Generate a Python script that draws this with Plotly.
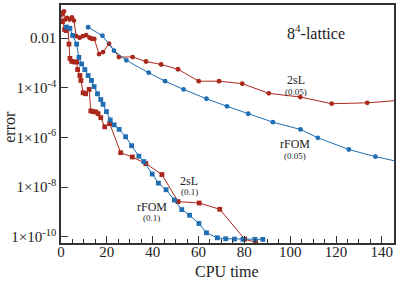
import plotly.graph_objects as go

# 2sL (0.05)
red05_x = [0.43, 1.30, 1.87, 2.73, 3.77, 4.77, 5.64, 6.64, 8.11, 9.54, 10.98, 12.45, 13.45, 14.53,
           16.62, 18.35, 20.95, 25.29, 31.24, 37.09, 43.69, 51.06, 60.09, 68.98, 79.09, 90.67,
           104.43, 118.13, 133.62, 149.2]
red05_y = [0.104, 0.120, 0.056, 0.0655, 0.056, 0.069, 0.051, 0.012, 0.0104, 0.012, 0.0132, 0.0104,
           0.00946, 0.0093, 0.00229, 0.00275, 0.00597, 0.00174, 0.00174, 0.00115, 8.7e-4, 5.6e-4,
           1.85e-4, 1.85e-4, 1.47e-4, 6.0e-5, 4.25e-5, 2.29e-5, 2.49e-5, 3.22e-5]

# rFOM (0.05)
blue05_x = [11.84, 18.09, 23.12, 28.50, 38.26, 45.42, 53.49, 63.47, 72.45, 81.69, 92.45, 104.47,
            112.06, 125.60, 137.18, 147.07]
blue05_y = [0.0275, 0.0125, 0.00313, 0.00128, 4.06e-4, 1.85e-4, 8.63e-5, 3.63e-5, 1.80e-5, 9.03e-6,
            4.13e-6, 2.11e-6, 9.73e-7, 3.28e-7, 1.69e-7, 1.07e-7]

# 2sL (0.1)
red01_x = [0.22, 0.65, 1.61, 2.30, 3.04, 3.47, 3.90, 4.64, 5.64, 6.81, 7.25, 8.24, 8.68, 9.67, 10.72,
           12.28, 13.02, 14.01, 15.18, 16.18, 17.35, 19.09, 21.26, 26.03, 31.11, 37.01, 44.03, 51.06,
           60.30, 69.28, 80.13, 84.90]
red01_y = [0.093, 0.0466, 0.0223, 0.0203, 0.0244, 0.00575, 0.00154, 0.00117, 0.0011, 0.0011, 5.44e-4,
           3.13e-4, 1.98e-4, 6.3e-5, 5.75e-5, 8.63e-5, 1.17e-5, 1.1e-5, 1.07e-5, 9.1e-6, 6.3e-6, 2.68e-6,
           3.63e-6, 2.44e-7, 1.64e-7, 8.87e-8, 3.22e-8, 2.61e-9, 2.29e-9, 1.28e-9, 8.1e-11, 5.97e-11]

# rFOM (0.1)
blue01_x = [2.39, 3.90, 5.08, 6.81, 7.81, 8.98, 10.41, 11.84, 13.32, 14.45, 15.92, 17.35, 18.35, 19.83,
            21.48, 23.21, 25.38, 28.20, 30.80, 33.97, 36.14, 39.78, 42.52, 45.86, 49.46, 52.71, 56.10,
            60.17, 63.47, 68.24, 71.89, 75.70, 79.39, 84.60, 88.07]
blue01_y = [0.0281, 0.0251, 0.0128, 0.00575, 0.00169, 9.12e-4, 5.44e-4, 3.13e-4, 1.98e-4, 1.12e-4,
            5.75e-5, 3.37e-5, 2.17e-5, 1.1e-5, 5.1e-6, 3.22e-6, 2.13e-6, 1.07e-6, 4.66e-7, 1.77e-7,
            1.07e-7, 3.37e-8, 1.45e-8, 7.87e-9, 3.02e-9, 1.25e-9, 7.38e-10, 3.44e-10, 1.45e-10, 9.12e-11,
            8.32e-11, 8.09e-11, 7.87e-11, 7.87e-11, 7.87e-11]

y_tickvals = [1e-2, 1e-4, 1e-6, 1e-8, 1e-10]
y_ticktext = ["0.01", "1×10<sup>-4</sup>", "1×10<sup>-6</sup>", "1×10<sup>-8</sup>", "1×10<sup>-10</sup>"]
x_tickvals = [0, 20, 40, 60, 80, 100, 120, 140]

RED = "#aa281b"
BLUE = "#1f6db3"
FONT = "Liberation Serif"

fig = go.Figure()
for xs, ys, col, sym in [(red05_x, red05_y, RED, "circle"), (blue05_x, blue05_y, BLUE, "circle"),
                         (red01_x, red01_y, RED, "square"), (blue01_x, blue01_y, BLUE, "square")]:
    fig.add_trace(go.Scatter(x=xs, y=ys, mode="lines+markers",
                             line=dict(color=col, width=1),
                             marker=dict(color=col, size=4.8, symbol=sym),
                             showlegend=False))

fig.update_xaxes(range=[0, 145.3], tickvals=x_tickvals, ticks="inside", ticklen=7, tickwidth=1.2,
                 tickcolor="#333", showline=True, linecolor="#333", linewidth=1.5, mirror=True,
                 showgrid=False, zeroline=False, ticklabelstandoff=-6,
                 tickfont=dict(family=FONT, size=15, color="#222"),
                 minor=dict(dtick=5, ticks="inside", ticklen=4, tickcolor="#333", tickwidth=1))
fig.update_yaxes(type="log", range=[-10.25, -0.664], tickvals=y_tickvals, ticktext=y_ticktext,
                 ticks="inside", ticklen=7, tickwidth=1.2, tickcolor="#333",
                 showline=True, linecolor="#333", linewidth=1.5, mirror=True,
                 showgrid=False, zeroline=False,
                 tickfont=dict(family=FONT, size=15, color="#222"))

ann = [
    ("8<sup>4</sup>-lattice", 0.767, 0.8875, 16),
    ("2sL", 0.707, 0.683, 12), ("(0.05)", 0.707, 0.633, 9),
    ("rFOM", 0.704, 0.417, 12), ("(0.05)", 0.704, 0.367, 9),
    ("2sL", 0.385, 0.2625, 12), ("(0.1)", 0.385, 0.215, 9),
    ("rFOM", 0.272, 0.15, 12), ("(0.1)", 0.272, 0.104, 9),
]
for t, x, y, s in ann:
    fig.add_annotation(text=t, x=x, y=y, xref="paper", yref="paper", showarrow=False,
                       xanchor="center", yanchor="middle",
                       font=dict(family=FONT, size=s, color="#222"))
fig.add_annotation(text="CPU time", x=0.499, y=-0.121, xref="paper", yref="paper", showarrow=False,
                   xanchor="center", yanchor="middle", font=dict(family=FONT, size=16, color="#222"))
fig.add_annotation(text="error", x=-0.155, y=0.49, xref="paper", yref="paper", showarrow=False,
                   xanchor="center", yanchor="middle",
                   textangle=-90, font=dict(family=FONT, size=16, color="#222"))

fig.update_layout(width=399, height=282, margin=dict(l=61, r=3, t=3, b=39),
                  plot_bgcolor="white", paper_bgcolor="white")
fig.write_html("out.html", config={"displayModeBar": False},
               post_script="document.body.style.margin='0';")
